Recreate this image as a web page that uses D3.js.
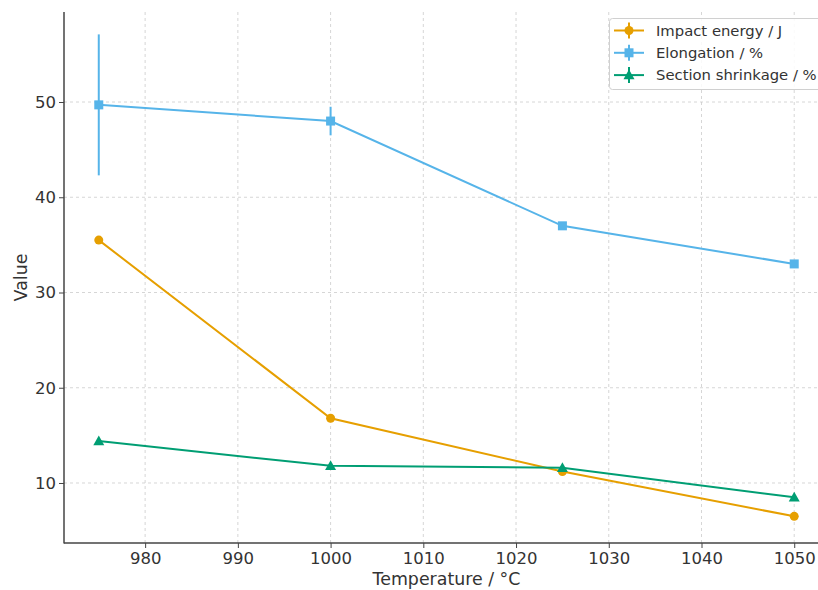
<!DOCTYPE html>
<html>
<head>
<meta charset="utf-8">
<script src="https://cdn.jsdelivr.net/npm/d3@7"></script>
<style>
  html, body { margin: 0; padding: 0; background: #fff; }
  svg { display: block; font-family: "DejaVu Sans", sans-serif; }
</style>
</head>
<body>
<svg id="chart" width="818" height="590"></svg>
<script>
const temperatures = [975, 1000, 1025, 1050];
const impactEnergy = [35.5, 16.8, 11.2, 6.5];
const elongation = [49.7, 48.0, 37.0, 33.0];
const elongationErr = [7.4, 1.5, 0, 0];
const sectionShrinkage = [14.4, 11.8, 11.6, 8.5];
const xTicks = [980, 990, 1000, 1010, 1020, 1030, 1040, 1050];
const yTicks = [10, 20, 30, 40, 50];
const seriesNames = ["Impact energy / J", "Elongation / %", "Section shrinkage / %"];

const series = [
  { name: seriesNames[0], values: impactEnergy, err: null, color: "#E69F00", marker: "circle" },
  { name: seriesNames[1], values: elongation, err: elongationErr, color: "#56B4E9", marker: "square" },
  { name: seriesNames[2], values: sectionShrinkage, err: null, color: "#009E73", marker: "triangle" }
];

const svg = d3.select("#chart");
const pLeft = 64, pRight = 829, pTop = 12, pBottom = 543;

const x = d3.scaleLinear().domain([971.25, 1053.75]).range([pLeft, pRight]);
const y = d3.scaleLinear().domain([3.7, 59.45]).range([pBottom, pTop]);

// grid
const grid = svg.append("g");
grid.selectAll("line.vx").data(xTicks).enter().append("line")
  .attr("x1", d => x(d)).attr("x2", d => x(d)).attr("y1", pTop).attr("y2", pBottom)
  .attr("stroke", "#cccccc").attr("stroke-width", 0.8).attr("stroke-dasharray", "3,3");
grid.selectAll("line.hy").data(yTicks).enter().append("line")
  .attr("x1", pLeft).attr("x2", pRight).attr("y1", d => y(d)).attr("y2", d => y(d))
  .attr("stroke", "#cccccc").attr("stroke-width", 0.8).attr("stroke-dasharray", "3,3");

// axes
const xAxis = d3.axisBottom(x).tickValues(xTicks).tickSize(5).tickPadding(4).tickFormat(d3.format("d"));
const yAxis = d3.axisLeft(y).tickValues(yTicks).tickSize(5).tickPadding(3).tickFormat(d3.format("d"));
const gx = svg.append("g").attr("transform", `translate(0,${pBottom})`).call(xAxis);
const gy = svg.append("g").attr("transform", `translate(${pLeft},0)`).call(yAxis);
[gx, gy].forEach(g => {
  g.select(".domain").remove();
  g.selectAll(".tick line").attr("stroke", "#444").attr("stroke-width", 1);
  g.selectAll(".tick text").attr("fill", "#333").style("font-size", "16.5px").style("font-family", "DejaVu Sans");
});
// spines
svg.append("line").attr("x1", pLeft).attr("x2", pLeft).attr("y1", pTop).attr("y2", pBottom + 0.5)
  .attr("stroke", "#444").attr("stroke-width", 1.5);
svg.append("line").attr("x1", pLeft).attr("x2", pRight).attr("y1", pBottom).attr("y2", pBottom)
  .attr("stroke", "#444").attr("stroke-width", 1.5);

// labels
svg.append("text").attr("x", (pLeft + pRight) / 2).attr("y", 585).attr("text-anchor", "middle")
  .attr("fill", "#333").style("font-size", "17.4px").text("Temperature / °C");
svg.append("text").attr("transform", `translate(27,${(pTop + pBottom) / 2}) rotate(-90)`)
  .attr("text-anchor", "middle").attr("fill", "#333").style("font-size", "17.4px").text("Value");

function drawMarker(g, type, cx, cy, color) {
  if (type === "circle") {
    g.append("circle").attr("cx", cx).attr("cy", cy).attr("r", 4.5).attr("fill", color);
  } else if (type === "square") {
    g.append("rect").attr("x", cx - 4.5).attr("y", cy - 4.5).attr("width", 9).attr("height", 9).attr("fill", color);
  } else {
    const s = 5.5;
    g.append("path").attr("d", `M${cx},${cy - s} L${cx + s},${cy + s * 0.75} L${cx - s},${cy + s * 0.75} Z`).attr("fill", color);
  }
}

const line = d3.line().x(d => x(d[0])).y(d => y(d[1]));
const plot = svg.append("g");
series.forEach(s => {
  const pts = temperatures.map((t, i) => [t, s.values[i]]);
  plot.append("path").datum(pts).attr("d", line).attr("fill", "none")
    .attr("stroke", s.color).attr("stroke-width", 2);
  if (s.err) {
    temperatures.forEach((t, i) => {
      if (s.err[i] > 0) {
        plot.append("line").attr("x1", x(t)).attr("x2", x(t))
          .attr("y1", y(s.values[i] - s.err[i])).attr("y2", y(s.values[i] + s.err[i]))
          .attr("stroke", s.color).attr("stroke-width", 2);
      }
    });
  }
  pts.forEach(p => drawMarker(plot, s.marker, x(p[0]), y(p[1]), s.color));
});

// legend
const lg = svg.append("g");
lg.append("rect").attr("x", 609.5).attr("y", 18.5).attr("width", 214).attr("height", 71).attr("rx", 3)
  .attr("fill", "rgba(255,255,255,0.85)").attr("stroke", "#d0d0d0").attr("stroke-width", 1);
series.forEach((s, i) => {
  const ly = 30.5 + i * 22.3;
  lg.append("line").attr("x1", 614).attr("x2", 644).attr("y1", ly).attr("y2", ly)
    .attr("stroke", s.color).attr("stroke-width", 2);
  lg.append("line").attr("x1", 629).attr("x2", 629).attr("y1", ly - 8).attr("y2", ly + 8)
    .attr("stroke", s.color).attr("stroke-width", 2);
  drawMarker(lg, s.marker, 629, ly, s.color);
  lg.append("text").attr("x", 656).attr("y", ly + 5.2).attr("fill", "#333")
    .style("font-size", "14.8px").text(s.name);
});
</script>
</body>
</html>
